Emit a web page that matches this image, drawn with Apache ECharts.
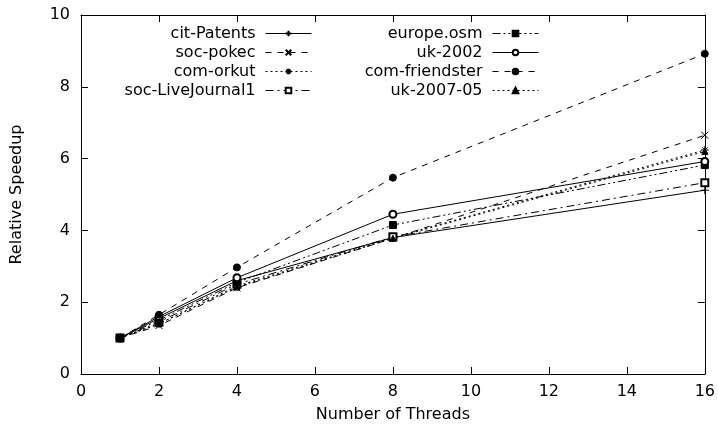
<!DOCTYPE html>
<html>
<head>
<meta charset="utf-8">
<script src="https://cdn.jsdelivr.net/npm/echarts@6/dist/echarts.min.js"></script>
<style>html,body{margin:0;padding:0;background:#fff}#c{width:718px;height:428px}</style>
</head>
<body>
<div id="c"></div>
<script>
const threads = [1, 2, 4, 8, 16];
const citPatents = [1, 1.55, 2.6, 3.8, 5.12];
const socPokec = [1, 1.35, 2.4, 3.78, 6.65];
const comOrkut = [1, 1.4, 2.45, 3.8, 6.24];
const socLiveJournal1 = [1, 1.45, 2.5, 3.82, 5.33];
const europeOsm = [1, 1.5, 2.55, 4.15, 5.82];
const uk2002 = [1, 1.6, 2.68, 4.45, 5.92];
const comFriendster = [1, 1.65, 2.97, 5.47, 8.92];
const uk200705 = [1, 1.4, 2.42, 3.78, 6.2];
const xTicks = [0, 2, 4, 6, 8, 10, 12, 14, 16];
const yTicks = [0, 2, 4, 6, 8, 10];

const FONT = 'DejaVu Sans';
const FS = 16;
const pairs = v => threads.map((t, i) => [t, v[i]]);
const plusPath = 'path://M0,5L10,5M5,0L5,10';
const crossPath = 'path://M0,0L10,10M10,0L0,10';
const starPath = 'path://M0,5L10,5M5,0L5,10M1.5,1.5L8.5,8.5M8.5,1.5L1.5,8.5';

function mk(name, data, dash, symbol, size) {
  return {
    name: name, type: 'line', data: pairs(data),
    symbol: symbol, symbolSize: size,
    lineStyle: { color: '#000', width: 1, type: dash },
    itemStyle: { color: '#000', borderColor: '#000', borderWidth: 1 },
    emphasis: { disabled: true },
    animation: false
  };
}

const series = [
  mk('cit-Patents', citPatents, 'solid', plusPath, 8),
  mk('soc-pokec', socPokec, [6, 6], crossPath, 7),
  mk('com-orkut', comOrkut, [2, 3], starPath, 8),
  mk('soc-LiveJournal1', socLiveJournal1, [8, 4, 2, 4], 'emptyRect', 7),
  mk('europe.osm', europeOsm, [8, 3, 2, 3, 2, 3], 'rect', 7),
  mk('uk-2002', uk2002, 'solid', 'emptyCircle', 7),
  mk('com-friendster', comFriendster, [6, 6], 'circle', 7),
  mk('uk-2007-05', uk200705, [2, 3], 'triangle', 6)
];

const legendBase = {
  orient: 'vertical', align: 'right', top: 20,
  itemWidth: 46, itemHeight: 7, itemGap: 2,
  lineStyle: { width: 1 },
  textStyle: { fontFamily: FONT, fontSize: FS, color: '#000', lineHeight: 17, padding: [0, 5, 0, 0] },
  selectedMode: false
};

const axisCommon = {
  axisLine: { show: true, onZero: false, lineStyle: { color: '#000', width: 1 } },
  axisTick: { show: true, inside: true, length: 7, lineStyle: { color: '#000' } },
  splitLine: { show: false }
};

const chart = echarts.init(document.getElementById('c'), null, { renderer: 'canvas' });
chart.setOption({
  animation: false,
  backgroundColor: '#fff',
  grid: { left: 81, right: 12, top: 15, bottom: 54, show: false },
  legend: [
    Object.assign({}, legendBase, { right: 401, data: series.slice(0, 4).map(s => s.name) }),
    Object.assign({}, legendBase, { right: 174, data: series.slice(4).map(s => s.name) })
  ],
  xAxis: [
    Object.assign({}, axisCommon, {
      type: 'value', min: xTicks[0], max: xTicks[xTicks.length - 1], interval: 2,
      name: 'Number of Threads', nameLocation: 'middle', nameGap: 33,
      nameTextStyle: { fontFamily: FONT, fontSize: FS, color: '#000' },
      axisLabel: { fontFamily: FONT, fontSize: FS, color: '#000', margin: 10 }
    }),
    Object.assign({}, axisCommon, {
      type: 'value', position: 'top', min: xTicks[0], max: xTicks[xTicks.length - 1], interval: 2,
      axisLabel: { show: false }
    })
  ],
  yAxis: [
    Object.assign({}, axisCommon, {
      type: 'value', min: yTicks[0], max: yTicks[yTicks.length - 1], interval: 2,
      name: 'Relative Speedup', nameLocation: 'middle', nameGap: 56,
      nameTextStyle: { fontFamily: FONT, fontSize: FS, color: '#000' },
      axisLabel: { fontFamily: FONT, fontSize: FS, color: '#000', margin: 11 }
    }),
    Object.assign({}, axisCommon, {
      type: 'value', position: 'right', min: yTicks[0], max: yTicks[yTicks.length - 1], interval: 2,
      axisLabel: { show: false }
    })
  ],
  series: series
});
</script>
</body>
</html>
